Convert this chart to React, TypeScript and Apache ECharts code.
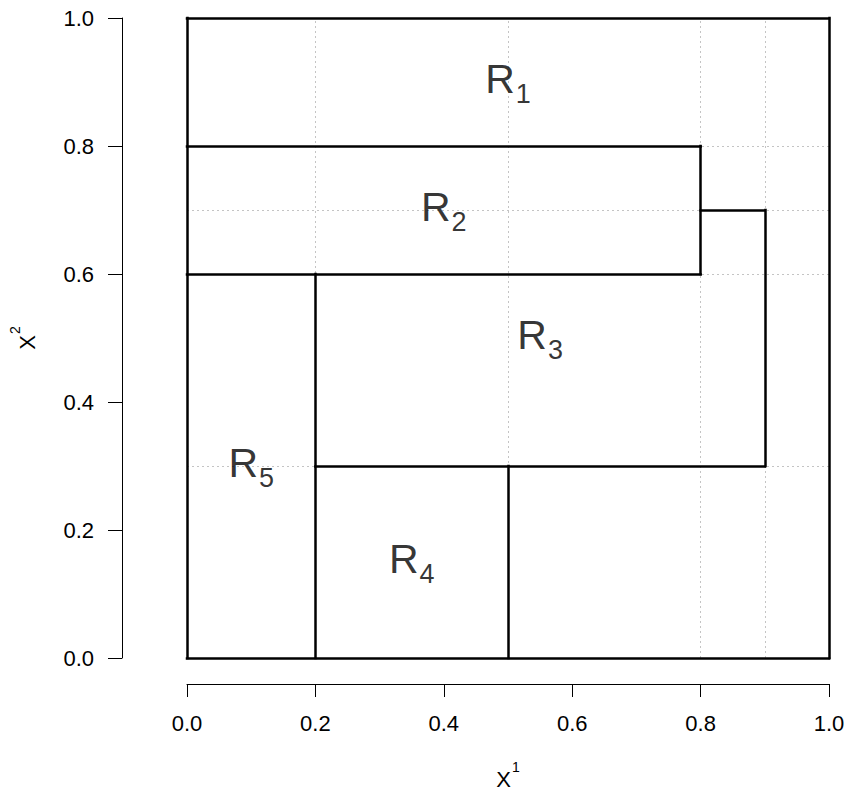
import React, { useEffect, useRef } from 'react';
import * as echarts from 'echarts';

const xTickValues = [0, 0.2, 0.4, 0.6, 0.8, 1.0];
const yTickValues = [0, 0.2, 0.4, 0.6, 0.8, 1.0];
const splitX = [0.2, 0.5, 0.8, 0.9];
const splitY = [0.3, 0.6, 0.7, 0.8];
const segStart = [[0, 0], [1, 0], [1, 1], [0, 1], [0, 0.8], [0.8, 0.8], [0, 0.6], [0.8, 0.7], [0.9, 0.7], [0.2, 0.3], [0.2, 0.6], [0.5, 0.3]];
const segEnd = [[1, 0], [1, 1], [0, 1], [0, 0], [0.8, 0.8], [0.8, 0.6], [0.8, 0.6], [0.9, 0.7], [0.9, 0.3], [0.9, 0.3], [0.2, 0], [0.5, 0]];
const regionIndex = ['1', '2', '3', '4', '5'];
const regionX = [0.5, 0.4, 0.55, 0.35, 0.1];
const regionY = [0.9, 0.7, 0.5, 0.15, 0.3];

const FONT = "'Liberation Sans', Arial, Helvetica, sans-serif";

export default function App() {
  const ref = useRef<HTMLDivElement>(null);
  useEffect(() => {
    if (!ref.current) return;
    const chart = echarts.init(ref.current, null, { renderer: 'svg' });
    const gridLines = [
      ...splitX.map((x) => ({ coords: [[x, 0], [x, 1]] })),
      ...splitY.map((y) => ({ coords: [[0, y], [1, y]] })),
    ];
    const partLines = segStart.map((s, i) => ({ coords: [s, segEnd[i]] }));
    const labels = regionIndex.map((n, i) => ({ value: [regionX[i], regionY[i]], name: n }));
    const nameRich = {
      x: { fontSize: 22, fontFamily: FONT, color: '#000' },
      s: { fontSize: 14, fontFamily: FONT, color: '#000', padding: [0, 0, 24, 1] },
    };
    chart.setOption({
      animation: false,
      backgroundColor: '#fff',
      grid: { left: 187, right: 19, top: 18, bottom: 134, show: false },
      xAxis: {
        type: 'value', min: 0, max: 1, interval: 0.2, offset: 26,
        name: '{x|X}{s|1}', nameLocation: 'middle', nameGap: 76,
        nameTextStyle: { color: '#000', rich: nameRich },
        axisLine: { show: true, onZero: false, lineStyle: { color: '#000', width: 1 } },
        axisTick: { show: true, length: 13, lineStyle: { color: '#000', width: 1 } },
        axisLabel: {
          margin: 28, fontSize: 22, fontFamily: FONT, color: '#000',
          formatter: (v: number) => (xTickValues.includes(+v.toFixed(1)) ? v.toFixed(1) : ''),
        },
        splitLine: { show: false },
      },
      yAxis: {
        type: 'value', min: 0, max: 1, interval: 0.2, offset: 65,
        name: '{x|X}{s|2}', nameLocation: 'middle', nameGap: 76, nameRotate: 90,
        nameTextStyle: { color: '#000', rich: nameRich },
        axisLine: { show: true, onZero: false, lineStyle: { color: '#000', width: 1 } },
        axisTick: { show: true, length: 14, lineStyle: { color: '#000', width: 1 } },
        axisLabel: {
          margin: 28, fontSize: 22, fontFamily: FONT, color: '#000',
          formatter: (v: number) => (yTickValues.includes(+v.toFixed(1)) ? v.toFixed(1) : ''),
        },
        splitLine: { show: false },
      },
      series: [
        {
          type: 'lines', coordinateSystem: 'cartesian2d', z: 1, clip: false,
          silent: true,
          lineStyle: { color: '#c4c4c4', width: 1, type: [2, 3], opacity: 1 },
          data: gridLines,
        },
        {
          type: 'lines', coordinateSystem: 'cartesian2d', z: 2, clip: false,
          silent: true,
          lineStyle: { color: '#000', width: 2.5, type: 'solid', opacity: 1, cap: 'square' },
          data: partLines,
        },
        {
          type: 'scatter', z: 3, symbolSize: 0, silent: true,
          data: labels,
          label: {
            show: true, position: 'inside', offset: [0, -3], color: '#000',
            formatter: (p: any) => `{r|R}{s|${p.name}}`,
            rich: {
              r: { fontSize: 41, fontFamily: FONT, color: '#000' },
              s: { fontSize: 27, fontFamily: FONT, color: '#000', padding: [30, 0, 0, 1] },
            },
          },
        },
      ],
    });
    return () => chart.dispose();
  }, []);
  return <div ref={ref} style={{ position: 'fixed', left: 0, top: 0, width: 848, height: 795 }} />;
}
